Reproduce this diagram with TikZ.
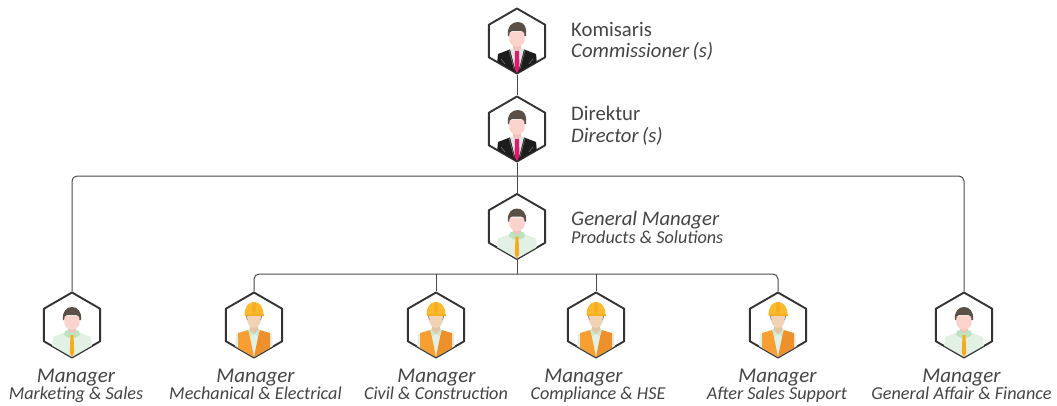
\documentclass[tikz,border=0pt]{standalone}
\usepackage{fontspec}
\setmainfont{Carlito}
\usetikzlibrary{shapes.geometric}
\definecolor{ink}{HTML}{444444}
\definecolor{hexline}{HTML}{333333}
\definecolor{wire}{HTML}{4A4A4A}
\definecolor{hairc}{HTML}{5A5047}
\definecolor{facec}{HTML}{FAD3CD}
\definecolor{neckc}{HTML}{EFC2BB}
\definecolor{suitc}{HTML}{1D1D1D}
\definecolor{tiered}{HTML}{E2186B}
\definecolor{tieor}{HTML}{F6AB1E}
\definecolor{shirtg}{HTML}{E2F1E3}
\definecolor{collarg}{HTML}{BCE2BF}
\definecolor{helmet}{HTML}{FBBA2E}
\definecolor{helmetd}{HTML}{F5AE22}
\definecolor{wface}{HTML}{F0D2B4}
\definecolor{wneck}{HTML}{E4C4A6}
\definecolor{vestl}{HTML}{F79F33}
\definecolor{vestr}{HTML}{EE902C}
\tikzset{
  x=1pt,y=-1pt,
  hexbox/.style={regular polygon,regular polygon sides=6,shape border rotate=30,minimum size=65pt,inner sep=0pt,draw=hexline,line width=1.9pt,line join=round},
  wirel/.style={draw=wire,line width=1pt,rounded corners=5pt},
  tmain/.style={anchor=base west,inner sep=0pt,text=ink,font=\fontsize{20.7}{22}\selectfont},
  titalic/.style={tmain,font=\fontsize{20.7}{22}\selectfont\itshape},
  tsub/.style={tmain,font=\fontsize{18.2}{20}\selectfont\itshape},
  mgrl/.style={anchor=base,inner sep=0pt,text=ink,font=\fontsize{21}{22}\selectfont\itshape},
  subl/.style={anchor=base,inner sep=0pt,text=ink,font=\fontsize{18.2}{20}\selectfont\itshape},
  suitperson/.pic={
    \begin{scope}
      \clip (0,-32) -- (28,-16) -- (28,16) -- (0,32) -- (-28,16) -- (-28,-16) -- cycle;
      \fill[suitc] (-20,23) -- (-19,13) -- (-6,8) -- (6,8) -- (19,13) -- (20,23) -- (0,36) -- cycle;
      \fill[white!90!black] (-7,8) -- (7,8) -- (2.5,26) -- (-2.5,26) -- cycle;
      \fill[neckc] (-4,2) -- (4,2) -- (4,8) -- (0,11) -- (-4,8) -- cycle;
      \fill[tiered] (-2,10) -- (2,10) -- (2.5,28) -- (0,32) -- (-2.5,28) -- cycle;
      \draw[white!55!black,line width=.4pt] (-8,9) -- (-3,28) (8,9) -- (3,28) (-16,18) -- (-12,23) (16,18) -- (12,23);
      \fill[facec] (-8,-9) -- (8,-9) -- (7.5,0) .. controls (6,4) and (3,6) .. (0,6) .. controls (-3,6) and (-6,4) .. (-7.5,0) -- cycle;
      \fill[hairc] (-9,-5) .. controls (-10,-15) and (-5,-19) .. (1,-19) .. controls (7,-19) and (10,-14) .. (9,-5) -- (7.5,-5) .. controls (7.5,-9) and (6,-10) .. (4,-10) -- (-5,-10) .. controls (-7,-10) and (-8,-8) .. (-8,-5) -- cycle;
    \end{scope}
  },
  shirtperson/.pic={
    \begin{scope}
      \clip (0,-32) -- (28,-16) -- (28,16) -- (0,32) -- (-28,16) -- (-28,-16) -- cycle;
      \fill[shirtg] (-20,23) -- (-19,12) -- (-6,7) -- (6,7) -- (19,12) -- (20,23) -- (0,36) -- cycle;
      \fill[neckc] (-4,1) -- (4,1) -- (4,8) -- (-4,8) -- cycle;
      \fill[collarg] (-7,6) -- (-4,5) -- (0,9) -- (4,5) -- (7,6) -- (8,10) -- (3,13) -- (0,10) -- (-3,13) -- (-8,10) -- cycle;
      \fill[tieor] (-1.5,10) -- (1.5,10) -- (2.2,28) -- (0,32) -- (-2.2,28) -- cycle;
      \fill[facec] (-8,-9) -- (8,-9) -- (7.5,-1) .. controls (6,3) and (3,5) .. (0,5) .. controls (-3,5) and (-6,3) .. (-7.5,-1) -- cycle;
      \fill[hairc] (-9,-5) .. controls (-10,-14) and (-5,-18) .. (0,-18) .. controls (5,-18) and (10,-14) .. (9,-5) -- (7.5,-5) .. controls (7.5,-9) and (6,-10) .. (4,-10) -- (-5,-10) .. controls (-7,-10) and (-8,-8) .. (-8,-5) -- cycle;
    \end{scope}
  },
  workerperson/.pic={
    \begin{scope}
      \clip (0,-32) -- (28,-16) -- (28,16) -- (0,32) -- (-28,16) -- (-28,-16) -- cycle;
      \fill[shirtg] (-19,23) -- (-18,9) -- (-6,5) -- (6,5) -- (18,9) -- (19,23) -- (0,36) -- cycle;
      \fill[vestl] (-16,8) -- (-5.5,5) -- (0,32) -- (0,36) -- (-16,26) -- cycle;
      \fill[vestr] (16,8) -- (5.5,5) -- (0,32) -- (0,36) -- (16,26) -- cycle;
      \fill[collarg!60!shirtg] (-6,5) -- (-4,3) -- (0,9) -- (4,3) -- (6,5) -- (3.5,11) -- (0,9) -- (-3.5,11) -- cycle;
      \fill[wneck] (-4,-2) -- (4,-2) -- (4,5) -- (0,9) -- (-4,5) -- cycle;
      \fill[hairc] (-8,-10) -- (8,-10) -- (7,-5) -- (-7,-5) -- cycle;
      \fill[wface] (-7,-10) -- (7,-10) -- (6.5,-3) .. controls (5,1) and (3,3) .. (0,3) .. controls (-3,3) and (-5,1) .. (-6.5,-3) -- cycle;
      \fill[helmet] (-9.5,-10) .. controls (-9.5,-18) and (-6,-23) .. (0,-23) .. controls (6,-23) and (9.5,-18) .. (9.5,-10) -- cycle;
      \fill[helmetd] (-1.5,-22.8) -- (1.5,-22.8) -- (2,-14) -- (0,-11) -- (-2,-14) -- cycle;
      \fill[helmetd] (-9.5,-11) -- (9.5,-11) -- (9.5,-9) -- (-9.5,-9) -- cycle;
    \end{scope}
  }
}
\begin{document}
\begin{tikzpicture}[x=1pt,y=-1pt]
\useasboundingbox (0,0) rectangle (1057,405);
\coordinate (busT) at (517,176);
\coordinate (busB) at (517,274);
\node[hexbox] (kom) at (517,41) {};
\node[hexbox] (dir) at (517,129) {};
\node[hexbox] (gm) at (517,226.5) {};
\node[hexbox] (m1) at (72,325) {};
\node[hexbox] (m2) at (254,325) {};
\node[hexbox] (m3) at (436,325) {};
\node[hexbox] (m4) at (596,325) {};
\node[hexbox] (m5) at (778,325) {};
\node[hexbox] (m6) at (964,325) {};
\draw[wirel] (kom.south) -- (dir.north);
\draw[wirel] (dir.south) -- (gm.north);
\draw[wirel] (m1.north) |- (busT) -| (m6.north);
\draw[wirel] (gm.south) -- (busB);
\draw[wirel] (m2.north) |- (busB) -| (m5.north);
\draw[wirel] (m3.north) -- (m3.north |- busB);
\draw[wirel] (m4.north) -- (m4.north |- busB);
\pic at (kom) {suitperson};
\pic at (dir) {suitperson};
\pic at (gm) {shirtperson};
\pic at (m1) {shirtperson};
\pic at (m2) {workerperson};
\pic at (m3) {workerperson};
\pic at (m4) {workerperson};
\pic at (m5) {workerperson};
\pic at (m6) {shirtperson};
\node[tmain] (t1) at (571,36) {Komisaris};
\node[titalic] (t2) at (571,57) {Commissioner\,(s)};
\node[tmain] (t3) at (571,120) {Direktur};
\node[titalic] (t4) at (571,142) {Director\,(s)};
\node[titalic] (t5) at (571,225) {General Manager};
\node[tsub] (t6) at (571,243) {Products \& Solutions};
\foreach \n/\x/\xs/\s in {1/76/76/Marketing \& Sales,2/255.5/255.5/Mechanical \& Electrical,3/436.5/436/Civil \& Construction,4/583.5/598/Compliance \& HSE,5/777.5/777/After Sales Support,6/961.5/961.5/General Affair \& Finance}{
  \node[mgrl] (ma\n) at (\x,382) {Manager};
  \node[subl] (su\n) at (\xs,399) {\s};
}
\end{tikzpicture}
\end{document}
